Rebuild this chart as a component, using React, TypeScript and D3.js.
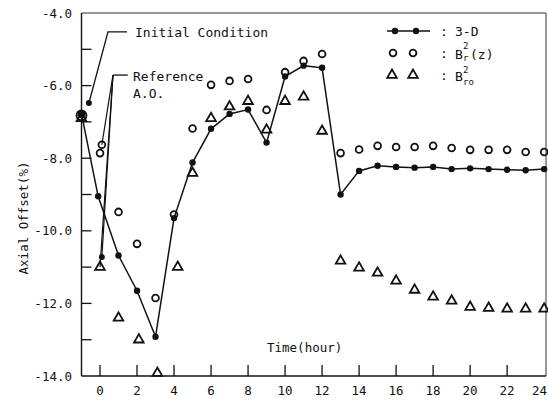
import React from "react";
import * as d3 from "d3";

// ---- data (time in hours, axial offset in %) ----
const threeDHours = [-1, -0.1, 1, 2, 3, 4, 5, 6, 7, 8, 9, 10, 11, 12, 13, 14, 15, 16, 17, 18, 19, 20, 21, 22, 23, 24];
const threeDValues = [-6.78, -9.05, -10.68, -11.65, -12.92, -9.65, -8.12, -7.19, -6.78, -6.66, -7.57, -5.75, -5.45, -5.51, -9.0, -8.35, -8.21, -8.24, -8.26, -8.24, -8.3, -8.28, -8.3, -8.32, -8.33, -8.3];

const brHours = [-1, 0.1, 0, 1, 2, 3, 4, 5, 6, 7, 8, 9, 10, 11, 12, 13, 14, 15, 16, 17, 18, 19, 20, 21, 22, 23, 24];
const brValues = [-6.82, -7.63, -7.86, -9.48, -10.36, -11.85, -9.55, -7.18, -5.98, -5.87, -5.82, -6.67, -5.63, -5.32, -5.13, -7.86, -7.76, -7.66, -7.69, -7.69, -7.66, -7.72, -7.77, -7.77, -7.77, -7.83, -7.83];

const broHours = [-1, 0, 1, 2.1, 3.1, 4.2, 5, 6, 7, 8, 9, 10, 11, 12, 13, 14, 15, 16, 17, 18, 19, 20, 21, 22, 23, 24];
const broValues = [-6.9, -11.0, -12.4, -13.0, -13.92, -11.0, -8.41, -6.9, -6.58, -6.43, -7.22, -6.43, -6.31, -7.25, -10.83, -11.02, -11.16, -11.38, -11.63, -11.82, -11.93, -12.1, -12.13, -12.15, -12.15, -12.15];

// annotation anchor points
const initialPoint = { t: -0.6, v: -6.48 };
const initialCorner = { t: 0.43, v: -4.52 };
const initialEnd = { t: 1.46, v: -4.52 };
const referenceCorner = { t: 0.7, v: -5.71 };
const referenceEnd = { t: 1.5, v: -5.71 };
const referenceDot = { t: 0.1, v: -10.72 };
const referenceTargets = [
  { t: 0.1, v: -7.63 },
  { t: 0.1, v: -10.72 },
  { t: 0.0, v: -11.0 },
];

const xTicks = [0, 2, 4, 6, 8, 10, 12, 14, 16, 18, 20, 22];
const xTickLabels = ["0", "2", "4", "6", "8", "10", "12", "14", "16", "18", "20", "22", "24"];
const xLabelValues = [0, 2, 4, 6, 8, 10, 12, 14, 16, 18, 20, 22, 24];
const yTicks = [-5, -6, -7, -8, -9, -10, -11, -12, -13];
const yLabelValues = [-4, -6, -8, -10, -12, -14];
const yTickLabels = ["-4.0", "-6.0", "-8.0", "-10.0", "-12.0", "-14.0"];

const FONT = "'DejaVu Sans Mono', monospace";

export default function App() {
  const x = d3.scaleLinear().domain([-1, 24.1]).range([81.5, 546]);
  const y = d3.scaleLinear().domain([-14, -4]).range([376, 13]);
  const line = d3
    .line<number>()
    .x((_, i) => x(threeDHours[i]))
    .y((d) => y(d));
  const tri = d3.symbol().type(d3.symbolTriangle).size(40)() as string;

  const x0 = x(-1);
  const x1 = x(24.1);
  const yTop = y(-4);
  const yBot = y(-14);

  return (
    <svg
      width={548}
      height={403}
      style={{ position: "fixed", left: 0, top: 0, background: "#fff" }}
      fontFamily={FONT}
    >
      <rect x={0} y={0} width={548} height={403} fill="#fff" />
      {/* frame */}
      <line x1={x0} y1={yTop} x2={x1} y2={yTop} stroke="#333" strokeWidth={1} />
      <line x1={x1} y1={yTop} x2={x1} y2={yBot} stroke="#333" strokeWidth={1} />
      <line x1={x0} y1={yTop} x2={x0} y2={yBot} stroke="#111" strokeWidth={1.4} />
      <line x1={x0} y1={yBot} x2={x1} y2={yBot} stroke="#111" strokeWidth={1.4} />

      {/* y ticks */}
      {yTicks.map((t) => (
        <line key={"yt" + t} x1={x0} x2={x0 + 10} y1={y(t)} y2={y(t)} stroke="#111" strokeWidth={1.3} />
      ))}
      {yLabelValues.map((t, i) => (
        <text key={"yl" + t} x={72} y={y(t)} dy="0.36em" textAnchor="end" fontSize={12.5} fill="#111">
          {yTickLabels[i]}
        </text>
      ))}
      {/* x ticks */}
      {xTicks.map((t) => (
        <line key={"xt" + t} x1={x(t)} x2={x(t)} y1={yBot} y2={yBot - 11} stroke="#111" strokeWidth={1.3} />
      ))}
      {xLabelValues.map((t, i) => (
        <text
          key={"xl" + t}
          x={i === xLabelValues.length - 1 ? 547 : x(t)}
          y={395}
          textAnchor={i === xLabelValues.length - 1 ? "end" : "middle"}
          fontSize={12.5}
          fill="#111"
        >
          {xTickLabels[i]}
        </text>
      ))}

      {/* axis titles */}
      <text x={267} y={352} fontSize={12.5} fill="#111">Time(hour)</text>
      <text transform="translate(28,218) rotate(-90)" textAnchor="middle" fontSize={12.5} fill="#111">
        Axial Offset(%)
      </text>

      {/* annotations */}
      <polyline
        points={[initialEnd, initialCorner, initialPoint].map((p) => `${x(p.t)},${y(p.v)}`).join(" ")}
        fill="none"
        stroke="#111"
        strokeWidth={1.3}
      />
      <circle cx={x(initialPoint.t)} cy={y(initialPoint.v)} r={3} fill="#111" />
      <text x={135} y={37} fontSize={13} fill="#111">Initial Condition</text>

      <line x1={x(referenceEnd.t)} y1={y(referenceEnd.v)} x2={x(referenceCorner.t)} y2={y(referenceCorner.v)} stroke="#111" strokeWidth={1.3} />
      {referenceTargets.map((p, i) => (
        <line key={"rt" + i} x1={x(referenceCorner.t)} y1={y(referenceCorner.v)} x2={x(p.t)} y2={y(p.v)} stroke="#111" strokeWidth={1.2} />
      ))}
      <circle cx={x(referenceDot.t)} cy={y(referenceDot.v)} r={3} fill="#111" />
      <text x={133} y={81} fontSize={13} fill="#111">Reference</text>
      <text x={133} y={98} fontSize={13} fill="#111">A.O.</text>

      {/* 3-D series */}
      <path d={line(threeDValues) || ""} fill="none" stroke="#111" strokeWidth={1.5} />
      {threeDValues.map((v, i) => (
        <circle key={"d" + i} cx={x(threeDHours[i])} cy={y(v)} r={i === 0 ? 4 : 3.2} fill="#111" />
      ))}

      {/* B_r^2(z) circles */}
      {brValues.map((v, i) => (
        <circle key={"c" + i} cx={x(brHours[i])} cy={y(v)} r={i === 0 ? 5 : 3.4} fill="none" stroke="#111" strokeWidth={1.8} />
      ))}

      {/* B_ro^2 triangles */}
      {broValues.map((v, i) => (
        <path key={"t" + i} d={tri} transform={`translate(${x(broHours[i])},${y(v)})`} fill="none" stroke="#111" strokeWidth={1.8} />
      ))}

      {/* legend */}
      <line x1={387} x2={430} y1={31} y2={31} stroke="#111" strokeWidth={1.5} />
      <circle cx={395} cy={31} r={3.2} fill="#111" />
      <circle cx={416} cy={31} r={3.2} fill="#111" />
      <text x={440} y={36} fontSize={13} fill="#111">:</text>
      <text x={455} y={36} fontSize={13} fill="#111">3-D</text>

      <circle cx={393} cy={53} r={3.4} fill="none" stroke="#111" strokeWidth={1.8} />
      <circle cx={413} cy={53} r={3.4} fill="none" stroke="#111" strokeWidth={1.8} />
      <text x={440} y={58} fontSize={13} fill="#111">:</text>
      <text x={455} y={59} fontSize={13} fill="#111">B</text>
      <text x={463} y={49} fontSize={9} fill="#111">2</text>
      <text x={463} y={61} fontSize={9} fill="#111">r</text>
      <text x={470} y={59} fontSize={13} fill="#111">(z)</text>

      <path d={tri} transform="translate(392,75)" fill="none" stroke="#111" strokeWidth={1.8} />
      <path d={tri} transform="translate(413,75)" fill="none" stroke="#111" strokeWidth={1.8} />
      <text x={440} y={80} fontSize={13} fill="#111">:</text>
      <text x={455} y={81} fontSize={13} fill="#111">B</text>
      <text x={463} y={73} fontSize={9} fill="#111">2</text>
      <text x={463} y={85} fontSize={9} fill="#111">ro</text>
    </svg>
  );
}
